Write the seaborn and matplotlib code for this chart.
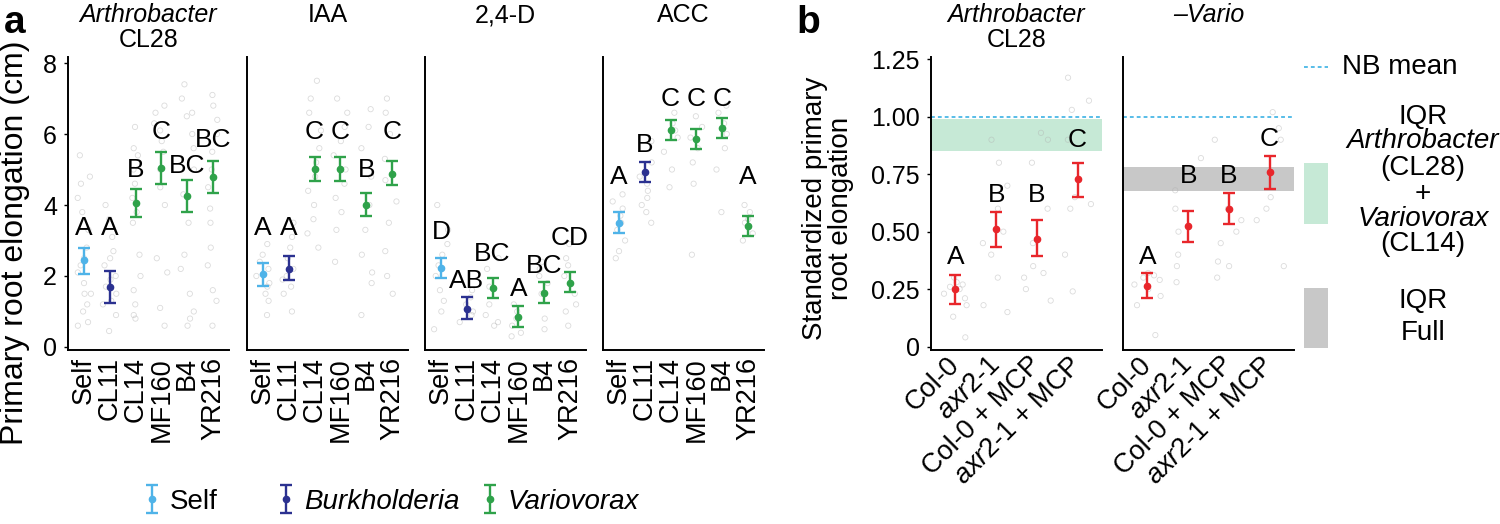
import numpy as np
import pandas as pd
import matplotlib.pyplot as plt
import matplotlib.patches as mpatches
from matplotlib.lines import Line2D
import seaborn as sns

# ---------------- panel a data ----------------
strains = ["Self", "CL11", "CL14", "MF160", "B4", "YR216"]
strain_group = ["Self", "Burkholderia", "Variovorax", "Variovorax", "Variovorax", "Variovorax"]
treat_titles = ["Arthrobacter", "IAA", "2,4-D", "ACC"]

mean_a = [
    [2.45, 1.70, 4.05, 5.05, 4.25, 4.78],
    [2.05, 2.20, 5.02, 5.02, 4.00, 4.88],
    [2.22, 1.08, 1.65, 0.85, 1.52, 1.80],
    [3.50, 4.93, 6.10, 5.85, 6.17, 3.40],
]
lo_a = [
    [2.05, 1.25, 3.65, 4.60, 3.80, 4.33],
    [1.72, 1.88, 4.68, 4.68, 3.68, 4.55],
    [1.95, 0.80, 1.38, 0.55, 1.24, 1.55],
    [3.20, 4.65, 5.82, 5.57, 5.90, 3.12],
]
hi_a = [
    [2.80, 2.15, 4.45, 5.50, 4.70, 5.23],
    [2.38, 2.55, 5.36, 5.36, 4.33, 5.24],
    [2.52, 1.40, 1.95, 1.15, 1.82, 2.10],
    [3.80, 5.22, 6.40, 6.13, 6.45, 3.70],
]
letters_a = [
    ["A", "A", "B", "C", "BC", "BC"],
    ["A", "A", "C", "C", "B", "C"],
    ["D", "AB", "BC", "A", "BC", "CD"],
    ["A", "B", "C", "C", "C", "A"],
]
letter_y_a = [
    [3.35, 3.35, 4.98, 6.05, 5.10, 5.83],
    [3.35, 3.35, 6.05, 6.05, 4.98, 6.05],
    [3.24, 1.86, 2.62, 1.63, 2.27, 3.07],
    [4.80, 5.70, 7.00, 7.00, 7.00, 4.80],
]
# individual plants (read approximately from the faint open circles)
points_a = [
    [[0.6, 0.7, 1.0, 1.2, 1.5, 1.5, 1.8, 2.1, 2.3, 2.5, 2.8, 3.3, 3.8, 4.2, 4.6, 4.8, 5.4],
     [0.45, 0.9, 1.2, 1.3, 1.5, 1.7, 1.9, 2.0, 2.3, 2.5, 2.7, 3.1, 3.6, 4.0],
     [0.8, 0.9, 1.2, 1.6, 2.0, 2.6, 3.5, 3.8, 4.2, 4.6, 5.0, 5.4, 5.6, 6.2],
     [0.6, 1.1, 2.1, 2.5, 4.0, 4.5, 5.0, 5.5, 5.8, 6.1, 6.3, 6.6, 6.8],
     [0.6, 0.8, 1.0, 1.5, 2.2, 2.6, 3.5, 4.3, 5.0, 5.6, 6.0, 6.5, 6.6, 7.0, 7.4],
     [0.6, 1.3, 1.6, 2.3, 2.8, 3.5, 3.9, 4.5, 5.0, 5.5, 6.0, 6.4, 6.8, 7.1]],
    [[0.9, 1.3, 1.5, 1.7, 1.8, 2.0, 2.2, 2.4, 2.6, 2.9],
     [1.0, 1.5, 1.7, 1.9, 2.0, 2.2, 2.5, 2.8, 3.1, 3.5],
     [2.8, 3.2, 3.6, 4.0, 4.4, 4.8, 5.2, 5.6, 6.1, 6.6, 7.0, 7.5],
     [2.4, 3.3, 3.8, 4.2, 4.6, 5.0, 5.4, 5.8, 6.2, 6.6, 7.0],
     [0.9, 1.8, 2.1, 2.6, 3.3, 4.0, 4.8, 5.6, 6.2, 6.7],
     [1.5, 2.0, 2.7, 3.5, 4.1, 4.7, 5.3, 6.0, 6.6, 7.0]],
    [[0.5, 1.0, 1.3, 1.6, 2.0, 2.3, 2.6, 2.9, 3.3, 4.0],
     [0.7, 0.9, 1.0, 1.2, 1.4, 1.6],
     [0.6, 0.7, 0.9, 1.2, 1.7, 2.2, 2.5],
     [0.3, 0.4, 0.6, 0.8, 1.0, 1.2],
     [0.5, 0.8, 1.5, 1.8, 2.0, 2.2, 2.4],
     [0.6, 1.0, 1.2, 1.5, 2.0, 2.3, 2.5, 2.9]],
    [[2.5, 2.7, 3.0, 3.3, 3.5, 3.7, 3.9, 4.1, 4.3],
     [3.5, 3.8, 4.0, 4.2, 4.4, 4.6, 4.8, 5.2, 5.8],
     [4.5, 5.0, 5.5, 5.9, 6.1, 6.3, 6.6],
     [2.6, 4.6, 5.2, 5.6, 5.9, 6.2, 6.5],
     [3.8, 5.0, 5.6, 6.0, 6.3, 6.6, 6.8],
     [3.0, 3.2, 3.4, 3.5, 3.6, 3.8, 4.0]],
]

# ---------------- panel b data ----------------
genotypes = ["Col-0", "axr2-1", "Col-0 + MCP", "axr2-1 + MCP"]
genotype_labels = ["Col-0", r"$\mathit{axr2}$-$\mathit{1}$", "Col-0 + MCP",
                   r"$\mathit{axr2}$-$\mathit{1}$ + MCP"]
mean_b = [[0.25, 0.51, 0.47, 0.73], [0.265, 0.525, 0.60, 0.76]]
lo_b = [[0.185, 0.435, 0.395, 0.65], [0.21, 0.455, 0.535, 0.685]]
hi_b = [[0.31, 0.585, 0.55, 0.80], [0.32, 0.59, 0.67, 0.83]]
letters_b = [["A", "B", "B", "C"], ["A", "B", "B", "C"]]
letter_y_b = [[0.39, 0.66, 0.66, 0.90], [0.39, 0.74, 0.74, 0.905]]
points_b = [
    [[0.04, 0.13, 0.18, 0.21, 0.23, 0.25, 0.26, 0.27, 0.28, 0.30],
     [0.15, 0.18, 0.30, 0.40, 0.45, 0.50, 0.60, 0.70, 0.80, 0.90],
     [0.20, 0.25, 0.30, 0.32, 0.35, 0.45, 0.60, 0.80, 0.90, 0.93],
     [0.24, 0.40, 0.60, 0.62, 0.65, 0.90, 1.03, 1.07, 1.17]],
    [[0.05, 0.18, 0.22, 0.25, 0.27, 0.29, 0.30, 0.31, 0.32],
     [0.28, 0.35, 0.40, 0.50, 0.60, 0.68, 0.82],
     [0.30, 0.35, 0.37, 0.45, 0.50, 0.55, 0.60, 0.90],
     [0.35, 0.55, 0.60, 0.65, 0.90, 0.95, 1.02]],
]
nb_mean = 1.0
iqr_arthro_vario = (0.85, 0.99)
iqr_full = (0.675, 0.78)

COLORS = {"Self": "#4fb3e8", "Burkholderia": "#2b3190", "Variovorax": "#2fa24a"}
RED = "#e8262b"
GREEN_BAND = "#c6e9d6"
GREY_BAND = "#c8c8c8"
NB_BLUE = "#29abe2"

sns.set_style("ticks")
plt.rcParams["font.family"] = ["Liberation Sans", "DejaVu Sans"]
plt.rcParams["mathtext.fontset"] = "custom"
plt.rcParams["mathtext.rm"] = "Liberation Sans"
plt.rcParams["mathtext.it"] = "Liberation Sans:italic"
for key in ("text.color", "axes.labelcolor", "xtick.color", "ytick.color"):
    plt.rcParams[key] = "black"
np.random.seed(7)

W, H = 1500, 524


def px(x, y):
    return x / W, 1 - y / H


def add_ax(fig, left, right, top=57, bottom=350):
    return fig.add_axes([left / W, 1 - bottom / H, (right - left) / W, (bottom - top) / H])


def style_ax(ax, first):
    sns.despine(ax=ax)
    for s in ("left", "bottom"):
        ax.spines[s].set_linewidth(1.4)
        ax.spines[s].set_color("black")
    ax.tick_params(axis="x", length=0, pad=5)
    ax.tick_params(axis="y", length=3 if first else 0, width=1, labelsize=18, labelleft=first, pad=5)
    ax.set(xlabel="", ylabel="")


def draw_points(ax, cats, pts, jitter):
    df = pd.DataFrame([(c, v) for c, vals in zip(cats, pts) for v in vals], columns=["cat", "val"])
    sns.stripplot(data=df, x="cat", y="val", order=cats, jitter=jitter, size=3.8, ax=ax)
    for coll in ax.collections:
        coll.set_facecolor("none")
        coll.set_edgecolor("#b0b0b0")
        coll.set_linewidth(0.6)
        coll.set_alpha(0.45)


def draw_bars(ax, mean, lo, hi, colors):
    out = []
    for i, (m, l, h, c) in enumerate(zip(mean, lo, hi, colors)):
        out.append(ax.errorbar(i, m, yerr=[[m - l], [h - m]], fmt="o", color=c, ms=4.5,
                               elinewidth=1.7, capsize=4, capthick=1.7, zorder=5))
    return out


fig = plt.figure(figsize=(15, 5.24), dpi=100)

# ---------------- panel a ----------------
a_lefts = [68, 247, 425, 603]
legend_bars = None
for k in range(4):
    ax = add_ax(fig, a_lefts[k], a_lefts[k] + 161)
    draw_points(ax, strains, points_a[k], 0.28)
    bars = draw_bars(ax, mean_a[k], lo_a[k], hi_a[k], [COLORS[g] for g in strain_group])
    if k == 0:
        legend_bars = [bars[0], bars[1], bars[2]]
    for i, (lt, ly) in enumerate(zip(letters_a[k], letter_y_a[k])):
        ax.text(i, ly, lt, ha="center", va="center", fontsize=19)
    ax.set_xlim(-0.62, 5.62)
    ax.set_ylim(-0.085, 8.17)
    ax.set_yticks([0, 2, 4, 6, 8])
    ax.set_xticks(range(len(strains)))
    ax.set_xticklabels(strains, rotation=90, fontsize=19.5)
    style_ax(ax, k == 0)
    if k == 0:
        ax.text(0.5, 1.143, treat_titles[k], transform=ax.transAxes, ha="center", va="center",
                fontsize=18, style="italic")
        ax.text(0.5, 1.058, "CL28", transform=ax.transAxes, ha="center", va="center", fontsize=18)
    else:
        ax.text(0.5, 1.143, treat_titles[k], transform=ax.transAxes, ha="center", va="center",
                fontsize=18)

fig.text(*px(15, 243), "Primary root elongation (cm)", rotation=90, ha="center", va="center", fontsize=23)
fig.text(*px(4, 33), "a", fontsize=28, fontweight="bold", va="baseline")

# bottom key, one entry per colour group
legend_names = ["Self", "Burkholderia", "Variovorax"]
legend_x = [152, 286, 490]
for bar, name, lx in zip(legend_bars, legend_names, legend_x):
    leg = fig.legend([bar], [name], loc="center left", bbox_to_anchor=px(lx - 7, 502),
                     frameon=False, fontsize=20, handlelength=0.5, handletextpad=0.4,
                     borderpad=0, borderaxespad=0)
    if name != "Self":
        leg.get_texts()[0].set_style("italic")

# ---------------- panel b ----------------
b_lefts = [931, 1123]
b_titles = ["Arthrobacter", "\u2013Vario"]
for k in range(2):
    ax = add_ax(fig, b_lefts[k], b_lefts[k] + 171)
    draw_points(ax, genotypes, points_b[k], 0.35)
    if k == 0:
        ax.axhspan(*iqr_arthro_vario, color=GREEN_BAND, lw=0, zorder=0.5)
    else:
        ax.axhspan(*iqr_full, color=GREY_BAND, lw=0, zorder=0.5)
    ax.axhline(nb_mean, color=NB_BLUE, ls=(0, (2.5, 2)), lw=1.1, zorder=1)
    draw_bars(ax, mean_b[k], lo_b[k], hi_b[k], [RED] * 4)
    for i, (lt, ly) in enumerate(zip(letters_b[k], letter_y_b[k])):
        ax.text(i, ly, lt, ha="center", va="center", fontsize=19)
    ax.set_xlim(-0.6, 3.6)
    ax.set_ylim(-0.015, 1.26)
    ax.set_yticks([0, 0.25, 0.5, 0.75, 1.0, 1.25])
    ax.set_yticklabels(["0", "0.25", "0.50", "0.75", "1.00", "1.25"])
    ax.set_xticks(range(len(genotypes)))
    ax.set_xticklabels(genotype_labels, rotation=45, ha="right", va="center",
                       rotation_mode="anchor", fontsize=19.5)
    style_ax(ax, k == 0)
    ax.tick_params(axis="x", pad=8)
    ax.text(0.5, 1.143, b_titles[k], transform=ax.transAxes, ha="center", va="center",
            fontsize=18, style="italic")
    if k == 0:
        ax.text(0.5, 1.058, "CL28", transform=ax.transAxes, ha="center", va="center", fontsize=18)

fig.text(*px(828, 208), "Standardized primary\nroot elongation", rotation=90, ha="center",
         va="center", fontsize=20, linespacing=1.0)
fig.text(*px(796, 33), "b", fontsize=28, fontweight="bold", va="baseline")

# right-hand key
fig.add_artist(Line2D([1304 / W, 1328 / W], [1 - 67 / H] * 2, color=NB_BLUE, ls=(0, (2.5, 2)),
                      lw=1.1, transform=fig.transFigure))
fig.text(*px(1342, 67), "NB mean", fontsize=20, va="center")
fig.add_artist(mpatches.Rectangle(px(1304, 224), 24 / W, 61 / H, color=GREEN_BAND, lw=0,
                                  transform=fig.transFigure))
fig.add_artist(mpatches.Rectangle(px(1304, 348), 24 / W, 60 / H, color=GREY_BAND, lw=0,
                                  transform=fig.transFigure))
key_lines = [("IQR", 117, "normal"), ("Arthrobacter", 141, "italic"), ("(CL28)", 168, "normal"),
             ("+", 194, "normal"), ("Variovorax", 219, "italic"), ("(CL14)", 244, "normal"),
             ("IQR", 301, "normal"), ("Full", 333, "normal")]
for txt, yy, st in key_lines:
    fig.text(*px(1423, yy), txt, fontsize=20, ha="center", va="center", style=st)

fig.savefig("out.png", dpi=100)
